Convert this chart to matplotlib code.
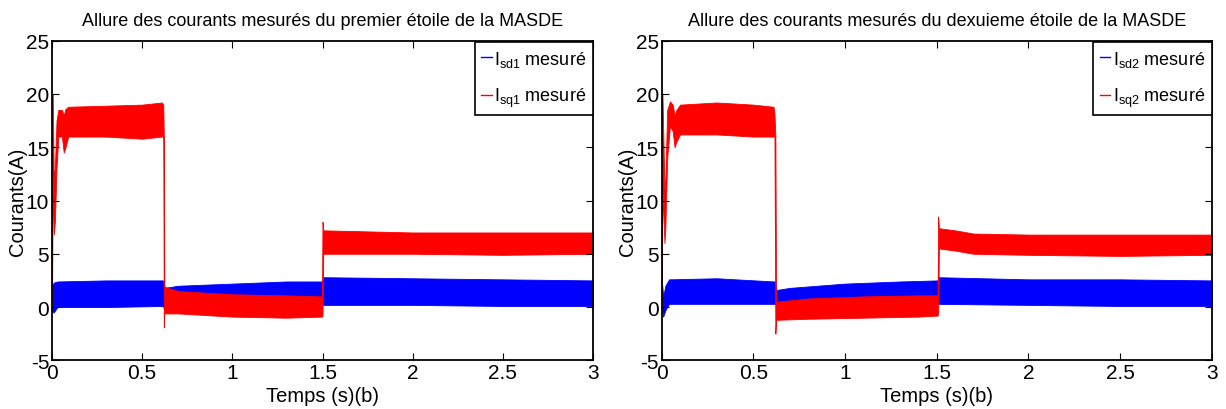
import matplotlib
matplotlib.use("Agg")
import matplotlib.pyplot as plt
from matplotlib.lines import Line2D
import numpy as np

FONT = ['Liberation Sans Narrow', 'Liberation Sans', 'DejaVu Sans']
plt.rcParams['font.family'] = FONT
plt.rcParams['mathtext.fontset'] = 'custom'
plt.rcParams['mathtext.rm'] = 'Liberation Sans'

# ---------------- data (envelopes) ----------------
titles = ["Allure des courants mesurés du premier étoile de la MASDE",
          "Allure des courants mesurés du dexuieme étoile de la MASDE"]
xlabel = "Temps (s)(b)"
ylabel = "Courants(A)"
xticks = [0, 0.5, 1, 1.5, 2, 2.5, 3]
yticks = [-5, 0, 5, 10, 15, 20, 25]
labels_d = [r"$\mathregular{I_{sd1}}$ mesuré", r"$\mathregular{I_{sd2}}$ mesuré"]
labels_q = [r"$\mathregular{I_{sq1}}$ mesuré", r"$\mathregular{I_{sq2}}$ mesuré"]

# panel 1, blue (Isd1)
t_d1  = [0.000, 0.010, 0.030, 0.300, 0.615, 0.625, 0.700, 1.000, 1.300, 1.495, 1.505, 2.000, 2.500, 3.000]
lo_d1 = [-0.5, -0.5, 0.0, 0.0, 0.1, -0.3, 0.3, 0.3, 0.4, 0.4, 0.2, 0.2, 0.1, 0.1]
hi_d1 = [2.0, 2.3, 2.4, 2.5, 2.5, 1.8, 2.0, 2.2, 2.4, 2.4, 2.8, 2.7, 2.6, 2.5]
# panel 1, red (Isq1)
t_q1  = [0.000, 0.004, 0.010, 0.016, 0.025, 0.035, 0.055, 0.065, 0.075, 0.090, 0.300, 0.500, 0.610, 0.617,
         0.620, 0.623, 0.700, 1.000, 1.300, 1.497, 1.500, 1.504, 2.000, 2.500, 3.000]
lo_q1 = [0.0, 12.0, 6.8, 8.0, 13.0, 16.0, 16.0, 14.5, 15.0, 16.0, 16.0, 15.8, 16.0, 16.0,
         -1.9, -0.6, -0.6, -0.9, -1.0, -0.9, -0.8, 5.0, 5.0, 4.9, 5.0]
hi_q1 = [20.0, 20.0, 12.0, 13.0, 17.5, 18.5, 18.5, 18.0, 18.6, 18.8, 18.9, 19.0, 19.2, 19.0,
         16.0, 1.9, 1.5, 1.2, 1.1, 1.0, 8.0, 7.2, 7.0, 7.0, 7.0]
# panel 2, blue (Isd2)
t_d2  = [0.000, 0.008, 0.020, 0.040, 0.300, 0.615, 0.625, 0.700, 1.000, 1.300, 1.505, 1.510, 2.000, 2.500, 3.000]
lo_d2 = [0.0, -0.9, -0.3, 0.3, 0.3, 0.3, 0.2, 0.4, 0.5, 0.5, 0.5, 0.3, 0.2, 0.1, 0.1]
hi_d2 = [2.6, 1.0, 2.0, 2.6, 2.7, 2.4, 1.6, 1.8, 2.2, 2.4, 2.5, 2.8, 2.6, 2.6, 2.5]
# panel 2, red (Isq2)
t_q2  = [0.000, 0.004, 0.015, 0.020, 0.030, 0.045, 0.060, 0.070, 0.080, 0.100, 0.300, 0.500, 0.610, 0.615,
         0.620, 0.624, 0.800, 1.100, 1.400, 1.505, 1.508, 1.512, 1.600, 1.700, 2.000, 2.500, 3.000]
lo_q2 = [0.0, 11.0, 6.0, 7.5, 14.0, 17.0, 16.5, 15.0, 15.5, 16.2, 16.2, 16.0, 16.0, 16.0,
         -2.5, -1.2, -1.1, -1.0, -0.9, -0.8, -0.6, 5.5, 5.3, 5.0, 4.9, 4.8, 4.9]
hi_q2 = [20.0, 20.0, 11.0, 12.0, 18.5, 19.3, 19.0, 18.0, 18.5, 19.0, 19.2, 19.0, 18.8, 18.2,
         16.0, 0.5, 0.8, 1.0, 1.1, 1.1, 8.5, 7.4, 7.2, 6.9, 6.8, 6.8, 6.8]

panels = [
    (t_d1, lo_d1, hi_d1, t_q1, lo_q1, hi_q1),
    (t_d2, lo_d2, hi_d2, t_q2, lo_q2, hi_q2),
]

W, H = 1226, 410
fig = plt.figure(figsize=(W / 100, H / 100), dpi=100)
ax_rects = [
    [52 / W, (H - 361.3) / H, (593 - 52) / W, (361.3 - 41.7) / H],
    [661.7 / W, (H - 361.3) / H, (1211.7 - 661.7) / W, (361.3 - 41.7) / H],
]

for i, (td, lod, hid, tq, loq, hiq) in enumerate(panels):
    ax = fig.add_axes(ax_rects[i])
    ax.fill_between(td, lod, hid, color='#0000ff', linewidth=0.6, edgecolor='#0000ff')
    ax.fill_between(tq, loq, hiq, color='#ff0000', linewidth=0.6, edgecolor='#ff0000')
    ax.set_xlim(0, 3)
    ax.set_ylim(-5, 25)
    ax.set_xticks(xticks)
    ax.set_xticklabels([f"{v:g}" for v in xticks])
    ax.set_yticks(yticks)
    ax.set_yticklabels([f"{v:g}" for v in yticks])
    ax.tick_params(direction='in', length=5, width=0.8, top=True, right=True,
                   labelsize=15, pad=2)
    for s in ax.spines.values():
        s.set_linewidth(1.3)
    ax.set_title(titles[i], fontsize=13, pad=11)
    ax.set_xlabel(xlabel, fontsize=14.5, labelpad=3)
    ax.set_ylabel(ylabel, fontsize=14.5, labelpad=-1)
    handles = [Line2D([], [], color='#0000ff', lw=1.0), Line2D([], [], color='#ff0000', lw=1.0)]
    leg = ax.legend(handles, [labels_d[i], labels_q[i]], loc='upper right',
                    bbox_to_anchor=(1.0, 0.995), fontsize=13, handlelength=0.6,
                    handletextpad=0.15, borderpad=0.35, labelspacing=0.95,
                    borderaxespad=0.0, fancybox=False, framealpha=1)
    leg.get_frame().set_edgecolor('black')
    leg.get_frame().set_linewidth(1.2)

fig.savefig("out.png", dpi=100)
